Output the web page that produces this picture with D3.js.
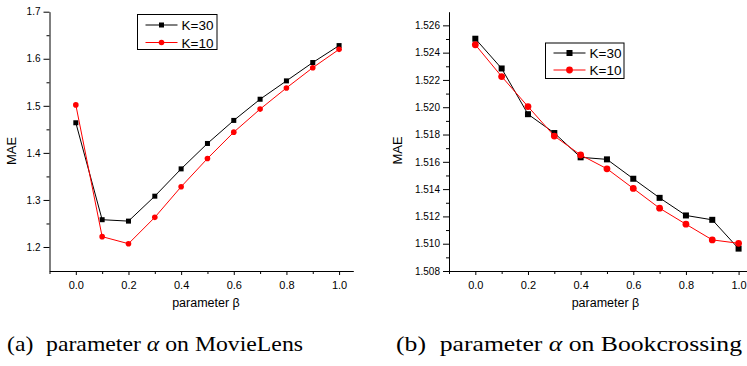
<!DOCTYPE html>
<html>
<head>
<meta charset="utf-8">
<script src="https://cdn.jsdelivr.net/npm/d3@7"></script>
<style>
  html, body { margin: 0; padding: 0; background: #fff; }
  svg { display: block; }
  .tick text { fill: #000; }
</style>
</head>
<body>
<script>
// beta values along the x axis
const betas = [0.0, 0.1, 0.2, 0.3, 0.4, 0.5, 0.6, 0.7, 0.8, 0.9, 1.0];

// (a) MovieLens
const movieK30 = [1.464, 1.258, 1.255, 1.308, 1.366, 1.420, 1.469, 1.514, 1.553, 1.592, 1.628];
const movieK10 = [1.502, 1.222, 1.207, 1.263, 1.328, 1.388, 1.444, 1.493, 1.538, 1.581, 1.620];

// (b) Bookcrossing
const bookK30 = [1.52502, 1.52284, 1.51949, 1.51811, 1.51633, 1.51618, 1.51476, 1.51336, 1.51207, 1.51175, 1.50964];
const bookK10 = [1.52458, 1.52225, 1.52005, 1.51789, 1.51650, 1.51549, 1.51405, 1.51260, 1.51143, 1.51028, 1.51003];

const seriesNames = ['K=30', 'K=10'];
const xTicks = [0.0, 0.2, 0.4, 0.6, 0.8, 1.0];
const xMinor = [-0.1, 0.1, 0.3, 0.5, 0.7, 0.9];
const movieYTicks = [1.2, 1.3, 1.4, 1.5, 1.6, 1.7];
const movieYMinor = [1.25, 1.35, 1.45, 1.55, 1.65];
const bookYTicks = [1.508, 1.510, 1.512, 1.514, 1.516, 1.518, 1.520, 1.522, 1.524, 1.526];
const bookYMinor = [1.509, 1.511, 1.513, 1.515, 1.517, 1.519, 1.521, 1.523, 1.525];

const W = 747, H = 366;
const sans = 'Liberation Sans, Arial, Helvetica, sans-serif';
const serif = 'Liberation Serif, Times New Roman, Times, serif';

const svg = d3.select('body').append('svg')
  .attr('width', W)
  .attr('height', H)
  .style('background', '#fff');

function drawPanel(p) {
  const x = d3.scaleLinear().domain([-0.1, 1.054]).range([p.left, p.left + 303.8]);
  const y = d3.scaleLinear().domain(p.yDomain).range([271, 11.7]);
  const g = svg.append('g');

  // y axis
  g.append('g')
    .attr('transform', `translate(${p.left},0)`)
    .call(d3.axisLeft(y).tickValues(p.yTicks).tickSize(6).tickSizeOuter(0)
      .tickPadding(3).tickFormat(d3.format(p.yFmt)))
    .call(a => a.selectAll('text').attr('font-size', 10).attr('font-family', sans));
  g.append('g')
    .attr('transform', `translate(${p.left},0)`)
    .call(d3.axisLeft(y).tickValues(p.yMinor).tickSize(3).tickFormat(''))
    .call(a => a.select('.domain').remove());

  // x axis
  g.append('g')
    .attr('transform', 'translate(0,271)')
    .call(d3.axisBottom(x).tickValues(xTicks).tickSize(4).tickSizeOuter(0)
      .tickPadding(6).tickFormat(d3.format('.1f')))
    .call(a => a.selectAll('text').attr('font-size', 11).attr('font-family', sans));
  g.append('g')
    .attr('transform', 'translate(0,271)')
    .call(d3.axisBottom(x).tickValues(xMinor).tickSize(3).tickFormat(''))
    .call(a => a.select('.domain').remove());

  g.selectAll('.domain, .tick line').attr('stroke', '#000');

  // axis titles
  g.append('text')
    .attr('transform', `translate(${p.maeX},${p.maeY}) rotate(-90)`)
    .attr('text-anchor', 'middle')
    .attr('font-family', sans).attr('font-size', 13)
    .text('MAE');
  g.append('text')
    .attr('x', p.left + 156.5).attr('y', 307)
    .attr('text-anchor', 'middle')
    .attr('font-family', sans).attr('font-size', 12.5)
    .text('parameter β');

  const line = d3.line().x((d, i) => x(betas[i])).y(d => y(d));
  const series = [
    { name: seriesNames[0], values: p.k30, color: '#000', shape: 'square' },
    { name: seriesNames[1], values: p.k10, color: '#ff0000', shape: 'circle' }
  ];

  function marker(sel, s) {
    if (s.shape === 'square') {
      sel.append('rect')
        .attr('x', -p.sq / 2).attr('y', -p.sq / 2)
        .attr('width', p.sq).attr('height', p.sq)
        .attr('fill', s.color);
    } else {
      sel.append('circle').attr('r', p.r).attr('fill', s.color);
    }
  }

  series.forEach(s => {
    g.append('path')
      .datum(s.values)
      .attr('fill', 'none')
      .attr('stroke', s.color)
      .attr('stroke-width', 1)
      .attr('d', line);
    g.selectAll(null)
      .data(s.values)
      .join('g')
      .attr('transform', (d, i) => `translate(${x(betas[i])},${y(d)})`)
      .each(function () { marker(d3.select(this), s); });
  });

  // legend
  const lg = g.append('g');
  lg.append('rect')
    .attr('x', p.legend.x).attr('y', p.legend.y)
    .attr('width', p.legend.w).attr('height', p.legend.h)
    .attr('fill', '#fff').attr('stroke', '#000').attr('stroke-width', 1);
  series.forEach((s, i) => {
    const ry = p.legend.rows[i];
    const lx = p.legend.x + 8;
    lg.append('line')
      .attr('x1', lx).attr('x2', lx + 32)
      .attr('y1', ry).attr('y2', ry)
      .attr('stroke', s.color).attr('stroke-width', 1);
    marker(lg.append('g').attr('transform', `translate(${lx + 16},${ry})`), s);
    lg.append('text')
      .attr('x', lx + 36).attr('y', ry + 5)
      .attr('font-family', sans).attr('font-size', 13.5)
      .text(s.name);
  });

  // caption
  const cap = svg.append('text')
    .attr('x', p.cap.x).attr('y', 351)
    .attr('font-family', serif).attr('font-size', 21)
    .attr('textLength', p.cap.w).attr('lengthAdjust', 'spacingAndGlyphs');
  cap.append('tspan').text(p.cap.tag);
  cap.append('tspan').attr('dx', 6).text('parameter ');
  cap.append('tspan').attr('font-style', 'italic').text('α');
  cap.append('tspan').text(p.cap.post);
}

drawPanel({
  left: 49.5, yDomain: [1.149, 1.7], yTicks: movieYTicks, yMinor: movieYMinor, yFmt: '.1f',
  k30: movieK30, k10: movieK10, sq: 5, r: 2.8,
  maeX: 16, maeY: 151,
  legend: { x: 137.5, y: 14.5, w: 79.5, h: 35, rows: [25, 42.5] },
  cap: { x: 7, w: 296, tag: '(a) ', post: ' on MovieLens' }
});

drawPanel({
  left: 449, yDomain: [1.508, 1.527], yTicks: bookYTicks, yMinor: bookYMinor, yFmt: '.3f',
  k30: bookK30, k10: bookK10, sq: 6, r: 3.4,
  maeX: 402, maeY: 150.5,
  legend: { x: 545.5, y: 43, w: 78.5, h: 35.5, rows: [53, 70] },
  cap: { x: 396, w: 346, tag: '(b) ', post: ' on Bookcrossing' }
});
</script>
</body>
</html>
